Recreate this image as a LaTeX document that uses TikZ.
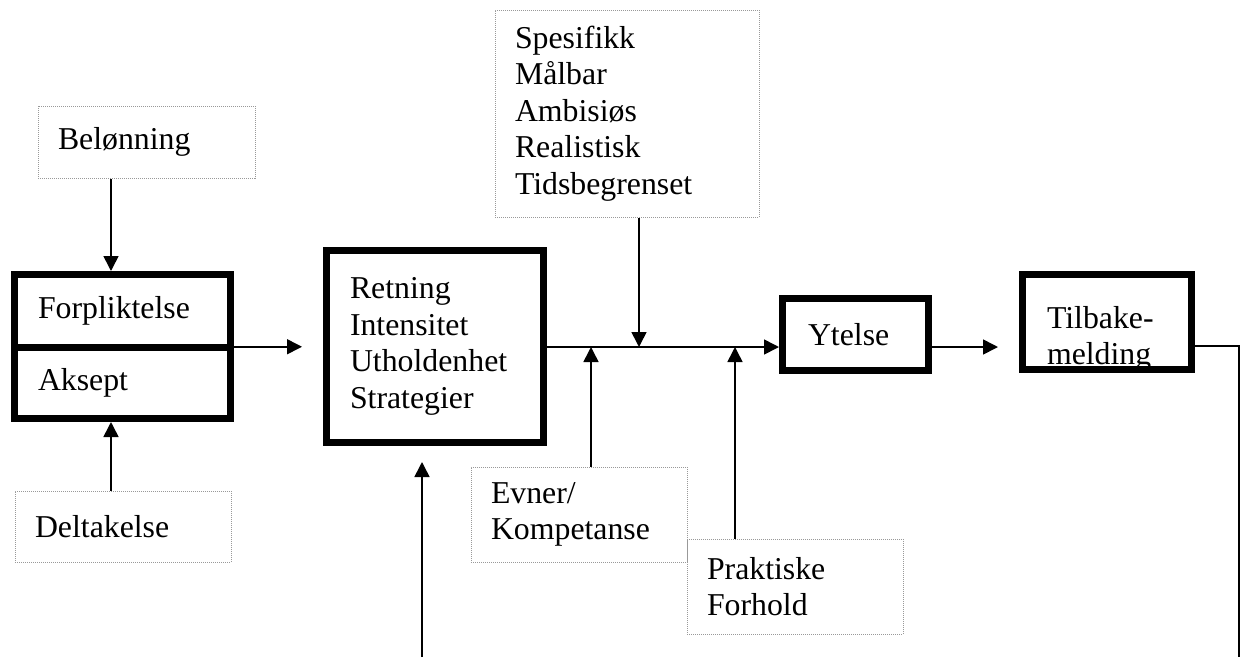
\documentclass[tikz,border=0pt]{standalone}
\usepackage{fontspec}
\setmainfont{Liberation Serif}
\usetikzlibrary{arrows.meta,calc}

\begin{document}
\begin{tikzpicture}[x=1pt,y=-1pt,
  font=\fontsize{31.8}{36.6}\selectfont,
  tykk/.style={draw, line width=7pt, align=left, inner ysep=0pt, inner xsep=23.5pt},
  prikk/.style={draw, gray!80, text=black, densely dotted, line width=1pt, align=left, inner ysep=0pt, inner xsep=20pt},
  pil/.style={-{Triangle[length=15pt,width=15pt]}, line width=1.6pt}]
  \useasboundingbox (0,0) rectangle (1243,657);

  % venstre kolonne
  \node[prikk, text width=177pt, minimum height=72pt] (belon) at (146.5,142) {Belønning};
  \node[tykk, text width=169pt, minimum height=72.5pt] (forpl) at (122.5,310.75) {Forpliktelse};
  \node[tykk, text width=169pt, minimum height=71.5pt] (aksept) at (122.5,382.75) {Aksept};
  \node[prikk, text width=176pt, minimum height=71pt] (delta) at (123,526.5) {Deltakelse};

  % midten
  \node[tykk, text width=170pt, minimum height=192pt] (retning) at (435,346.5)
    {Retning\\Intensitet\\Utholdenhet\\Strategier};
  \node[prikk, text width=224pt, minimum height=207pt] (spes) at (627,113.5)
    {Spesifikk\\Målbar\\Ambisiøs\\Realistisk\\Tidsbegrenset};
  \node[prikk, text width=176pt, minimum height=95pt] (evner) at (579,514.5) {Evner/\\Kompetanse};
  \node[prikk, text width=176pt, minimum height=95pt] (prakt) at (795,586.5) {Praktiske\\Forhold};

  % hoyre side
  \node[tykk, inner xsep=25.5pt, text width=95pt, minimum height=72pt] (ytelse) at (855.5,334.5) {Ytelse};
  \node[tykk, inner xsep=24.5pt, inner ysep=-3pt, text width=120pt, minimum height=95pt] (tilbake) at (1107,322)
    {\rule{0pt}{56pt}Tilbake-\\melding};

  \coordinate (kol) at (111,0);
  \coordinate (jA) at (591,347);
  \coordinate (jB) at (639,347);
  \coordinate (jC) at (735,347);
  \coordinate (fbR) at (1239,657);
  \coordinate (fbL) at (422,657);
  \coordinate (deling) at ($(forpl.east)!0.5!(aksept.east)$);

  \draw[pil] (belon.south -| kol) -- (forpl.north -| kol);
  \draw[pil] (delta.north -| kol) -- (aksept.south -| kol);
  \draw[pil, shorten >=21pt] (deling) -- (deling -| retning.west);
  \draw[pil] (retning.east |- jA) -- (jA -| ytelse.west);
  \draw[pil] (spes.south -| jB) -- (jB);
  \draw[pil] (evner.north -| jA) -- (jA);
  \draw[pil] (prakt.north -| jC) -- (jC);
  \draw[pil, shorten >=21pt] (ytelse.east |- jA) -- (jA -| tilbake.west);
  \draw[line width=1.3pt] (tilbake.east |- 0,346) -- (fbR |- 0,346) -- (fbR);
  \draw[pil, shorten >=16pt] (fbL) -- (fbL |- retning.south);
\end{tikzpicture}
\end{document}
